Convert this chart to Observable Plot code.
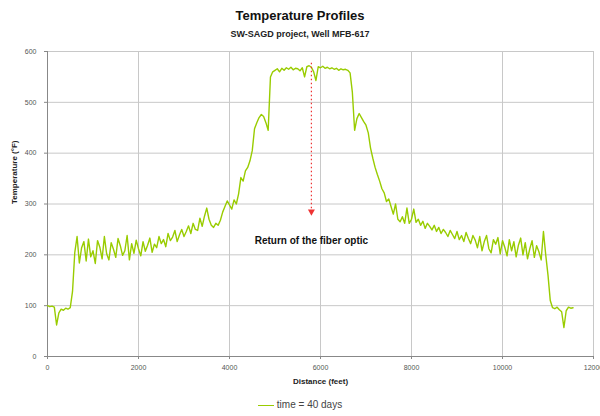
<!DOCTYPE html>
<html><head><meta charset="utf-8">
<script src="https://cdn.jsdelivr.net/npm/d3@7"></script>
<script src="https://cdn.jsdelivr.net/npm/@observablehq/plot@0.6"></script>
<style>
body{margin:0;background:#fff;font-family:"Liberation Sans",Arial,sans-serif;}
#wrap{position:relative;width:600px;height:416px;overflow:hidden;}
#title{position:absolute;top:8px;left:0;width:600px;text-align:center;font-weight:bold;font-size:13px;color:#111;line-height:16px;}
#subtitle{position:absolute;top:28px;left:0;width:600px;text-align:center;font-weight:bold;font-size:9px;color:#222;line-height:12px;}
#legend{position:absolute;top:398px;left:0;width:600px;text-align:center;font-size:10px;color:#444;line-height:14px;}
#legend .sw{display:inline-block;width:16px;height:0;border-top:1.5px solid #99cc00;vertical-align:middle;margin-right:3px;}
#chart{position:absolute;top:0;left:0;}
</style></head>
<body>
<div id="wrap">
<div id="chart"></div>
<div id="title"></div>
<div id="subtitle"></div>
<div id="legend"></div>
</div>
<script>
const titleText = "Temperature Profiles";
const subtitleText = "SW-SAGD project, Well MFB-617";
const xLabel = "Distance (feet)";
const yLabel = "Temperature (°F)";
const seriesName = "time = 40 days";
const xTicks = [0, 2000, 4000, 6000, 8000, 10000, 12000];
const yTicks = [0, 100, 200, 300, 400, 500, 600];

const distance = [
0,50,100,150,200,250,300,350,400,450,
500,550,600,650,700,750,800,850,900,950,
1000,1050,1100,1150,1200,1250,1300,1350,1400,1450,
1500,1550,1600,1650,1700,1750,1800,1850,1900,1950,
2000,2050,2100,2150,2200,2250,2300,2350,2400,2450,
2500,2550,2600,2650,2700,2750,2800,2850,2900,2950,
3000,3050,3100,3150,3200,3250,3300,3350,3400,3450,
3500,3550,3600,3650,3700,3750,3800,3850,3900,3950,
4000,4050,4100,4150,4200,4250,4300,4350,4400,4450,
4500,4550,4600,4650,4700,4750,4800,4850,4900,4950,
5000,5050,5100,5150,5200,5250,5300,5350,5400,5450,
5500,5550,5600,5650,5700,5750,5800,5850,5900,5950,
6000,6050,6100,6150,6200,6250,6300,6350,6400,6450,
6500,6550,6600,6650,6700,6750,6800,6850,6900,6950,
7000,7050,7100,7150,7200,7250,7300,7350,7400,7450,
7500,7550,7600,7650,7700,7750,7800,7850,7900,7950,
8000,8050,8100,8150,8200,8250,8300,8350,8400,8450,
8500,8550,8600,8650,8700,8750,8800,8850,8900,8950,
9000,9050,9100,9150,9200,9250,9300,9350,9400,9450,
9500,9550,9600,9650,9700,9750,9800,9850,9900,9950,
10000,10050,10100,10150,10200,10250,10300,10350,10400,10450,
10500,10550,10600,10650,10700,10750,10800,10850,10900,10950,
11000,11050,11100,11150,11200,11250,11300,11350,11400,11450,
11500,11550
];
const temperature = [
100,98,99,97,62,86,93,91,95,93,
96,128,205,236,184,214,226,188,231,196,
208,183,228,215,192,236,202,190,224,211,
195,232,218,199,208,238,190,222,203,229,
212,198,226,207,219,233,205,221,214,236,
222,230,216,242,228,235,248,226,239,250,
236,246,257,242,262,250,248,272,256,276,
292,270,258,254,262,258,268,284,295,306,
298,290,308,300,320,352,345,365,372,385,
405,448,460,470,476,472,460,445,550,560,
563,566,560,567,563,568,565,569,564,567,
566,562,568,550,570,572,569,560,543,570,
568,571,567,569,566,568,565,567,563,566,
564,565,563,558,520,445,468,478,470,462,
455,440,410,390,372,358,345,330,322,305,
310,295,280,300,270,265,275,262,292,262,
270,290,264,270,258,266,252,262,256,249,
258,246,254,242,250,244,236,248,240,232,
246,230,238,226,244,232,222,238,229,214,
236,208,226,238,212,204,230,221,234,202,
228,215,198,230,208,226,196,219,233,200,
224,192,212,228,195,218,206,190,246,200,
160,110,96,94,97,92,88,57,90,97,
95,96
];

const noteText = ["Return of the fiber optic"];
const noteX = [5800];
const noteY = [228];
const arrowX = [5800];
const arrowTop = [578];
const arrowBottom = [285];

const data = distance.map((d, i) => ({distance: d, temperature: temperature[i]}));
const arrows = arrowX.map((x, i) => ({x, top: arrowTop[i], bottom: arrowBottom[i]}));
const notes = noteText.map((t, i) => ({t, x: noteX[i], y: noteY[i]}));

document.getElementById("title").textContent = titleText;
document.getElementById("subtitle").textContent = subtitleText;
document.getElementById("legend").innerHTML = '<span class="sw"></span>' + seriesName;

const chart = Plot.plot({
  width: 600, height: 416,
  marginTop: 51, marginBottom: 60, marginLeft: 47, marginRight: 7,
  style: {fontFamily: "Liberation Sans, Arial, sans-serif", background: "transparent", overflow: "visible"},
  x: {domain: [0, 12000]},
  y: {domain: [0, 600]},
  marks: [
    Plot.gridX(xTicks.slice(1), {stroke: "#c8c8c8", strokeOpacity: 1}),
    Plot.gridY(yTicks.slice(1), {stroke: "#c8c8c8", strokeOpacity: 1}),
    Plot.axisX(xTicks, {tickSize: 3, tickPadding: 6, fontSize: 7, fill: "#555", stroke: "#888", label: null, tickFormat: d => String(d)}),
    Plot.axisY(yTicks, {tickSize: 3, tickPadding: 8, fontSize: 7, fill: "#555", stroke: "#888", label: null}),
    Plot.ruleY([0], {stroke: "#888"}),
    Plot.ruleX([0], {stroke: "#888"}),
    Plot.line(data, {x: "distance", y: "temperature", stroke: "#99cc00", strokeWidth: 1.4, strokeLinejoin: "round"}),
    Plot.link(arrows, {x1: "x", x2: "x", y1: "top", y2: "bottom", stroke: "#ee3333", strokeWidth: 1.2, strokeDasharray: "1.5,2.5"}),
    Plot.dot(arrows, {x: "x", y: "bottom", symbol: "triangle", r: 2.6, fill: "#ee3333", stroke: null, rotate: 180}),
    Plot.text(notes, {x: "x", y: "y", text: "t", fontSize: 10, fontWeight: "bold", fill: "#111"}),
    Plot.text([xLabel], {frameAnchor: "bottom", dy: 27, fontSize: 8, fontWeight: "bold", fill: "#222"}),
    Plot.text([yLabel], {frameAnchor: "left", dx: -33, rotate: -90, fontSize: 8, fontWeight: "bold", fill: "#222"})
  ]
});
document.getElementById("chart").appendChild(chart);
</script>
</body></html>
